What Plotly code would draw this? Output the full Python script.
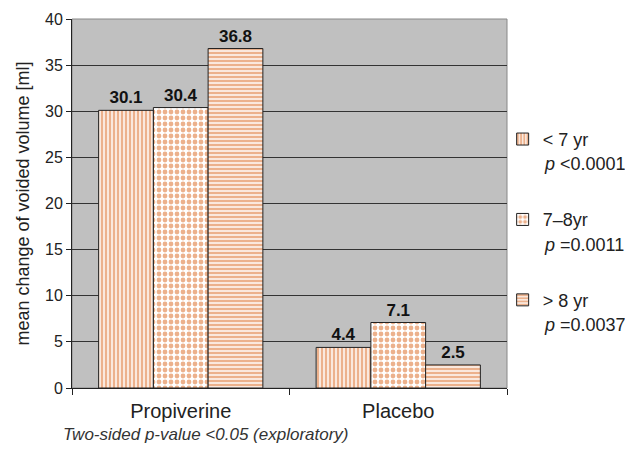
import plotly.graph_objects as go

categories = ["Propiverine", "Placebo"]
series_names = ["< 7 yr", "7\u20128yr", "> 8 yr"]
p_values = ["<0.0001", "=0.0011", "=0.0037"]
values_lt7 = [30.1, 4.4]
values_7to8 = [30.4, 7.1]
values_gt8 = [36.8, 2.5]
y_ticks = [0, 5, 10, 15, 20, 25, 30, 35, 40]

series_values = [values_lt7, values_7to8, values_gt8]
patterns = ["|", ".", "-"]
pattern_sizes = [4, 6, 4]
pattern_solidity = [0.65, 0.5, 0.65]
orange = "#D9641A"
FONT = "Liberation Sans, Arial, sans-serif"

fig = go.Figure()
for i, (name, vals) in enumerate(zip(series_names, series_values)):
    fig.add_trace(go.Bar(
        x=categories, y=vals, name=name,
        legendgroup=f"g{i}",
        text=[f"{v:.1f}" for v in vals], textposition="outside",
        textfont=dict(family=FONT, size=17, color="#111111", weight="bold"),
        cliponaxis=False,
        marker=dict(
            color="white",
            line=dict(color="#222222", width=1),
            pattern=dict(shape=patterns[i], fgcolor=orange, bgcolor="white",
                         size=pattern_sizes[i], solidity=pattern_solidity[i],
                         fillmode="overlay"),
        ),
    ))

fig.update_layout(
    width=633, height=466,
    margin=dict(l=64, r=134, t=11, b=86, autoexpand=False),
    paper_bgcolor="white", plot_bgcolor="#C0C0C0",
    barmode="group", bargap=0.245, bargroupgap=0,
    font=dict(family=FONT, size=16, color="#222222"),
    showlegend=True,
    legend=dict(x=0.99, xanchor="left", y=0.724, yanchor="top",
                bgcolor="rgba(0,0,0,0)", tracegroupgap=54,
                font=dict(family=FONT, size=18, color="#222222"),
                itemwidth=30, traceorder="grouped"),
    xaxis=dict(showline=True, linecolor="#222222", linewidth=1,
               ticks="outside", tickson="boundaries", ticklen=6,
               tickcolor="#222222", automargin=False, ticklabelstandoff=5,
               tickfont=dict(family=FONT, size=20, color="#222222")),
    yaxis=dict(range=[0, 40], tickvals=y_ticks, showline=True,
               linecolor="#222222", linewidth=1, ticks="outside", ticklen=5,
               tickcolor="#222222", showgrid=True, gridcolor="#333333",
               gridwidth=1, zeroline=False, automargin=False,
               tickfont=dict(family=FONT, size=16, color="#222222"),
               title=dict(text="mean change of voided volume [ml]",
                          font=dict(family=FONT, size=18, color="#222222"),
                          standoff=10)),
)

# plot-area border
fig.add_shape(type="rect", xref="paper", yref="paper", x0=0, x1=1, y0=0, y1=1,
              line=dict(color="#888888", width=1), layer="below")

# p-value lines of the legend
p_y = [0.607, 0.388, 0.171]
for p, yy in zip(p_values, p_y):
    fig.add_annotation(text=f"<i>p</i> {p}", xref="paper", yref="paper",
                       x=1.08, y=yy, xanchor="left", yanchor="middle",
                       showarrow=False,
                       font=dict(family=FONT, size=18, color="#222222"))

fig.add_annotation(text="<i>Two-sided p-value <0.05 (exploratory)</i>",
                   xref="paper", yref="paper", x=-0.025, y=-0.127,
                   xanchor="left", yanchor="middle", showarrow=False,
                   font=dict(family=FONT, size=17, color="#333333"))

fig.write_html("out.html")
